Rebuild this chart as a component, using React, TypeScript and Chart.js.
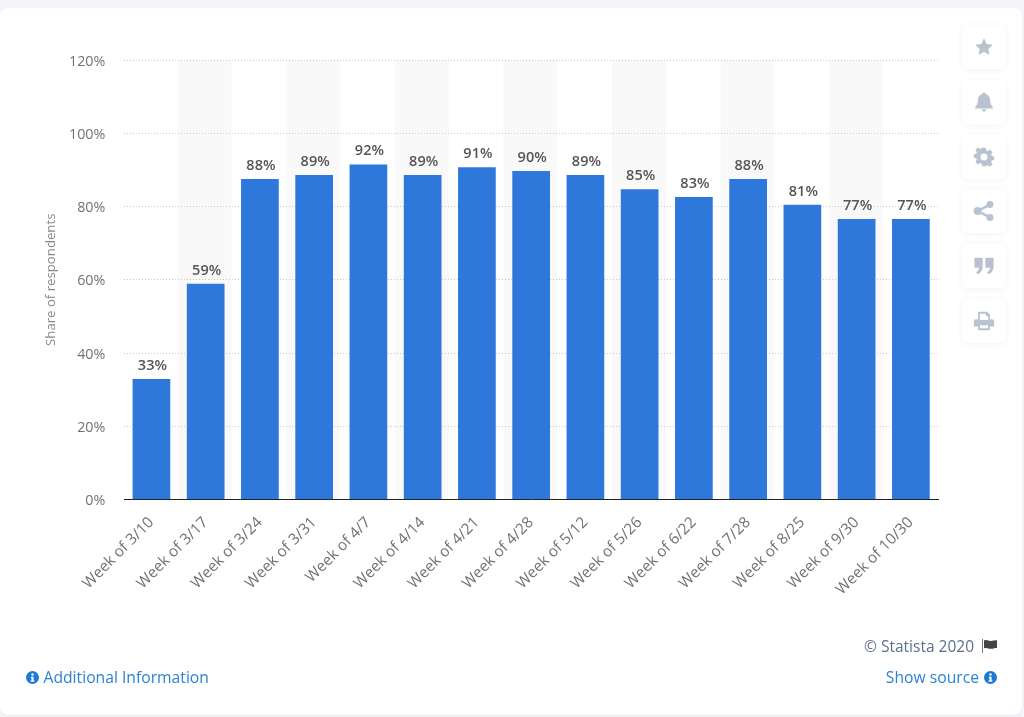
import React, { useEffect, useRef } from "react";
import { Chart, registerables } from "chart.js";

Chart.register(...registerables);

const categories = ["Week of 3/10", "Week of 3/17", "Week of 3/24", "Week of 3/31", "Week of 4/7", "Week of 4/14", "Week of 4/21", "Week of 4/28", "Week of 5/12", "Week of 5/26", "Week of 6/22", "Week of 7/28", "Week of 8/25", "Week of 9/30", "Week of 10/30"];
// Printed labels
const shares = [33, 59, 88, 89, 92, 89, 91, 90, 89, 85, 83, 88, 81, 77, 77];
// Bar heights as read against the gridlines in the picture
const barHeights = [32.9, 58.9, 87.5, 88.6, 91.5, 88.6, 90.7, 89.7, 88.6, 84.7, 82.6, 87.5, 80.5, 76.6, 76.6];
const yAxisTitle = "Share of respondents";
const FONT = '"Open Sans", sans-serif';

const stripes = {
  id: "stripes",
  beforeDraw(chart: any) {
    const { ctx, chartArea, scales } = chart;
    const step = scales.x.getPixelForValue(1) - scales.x.getPixelForValue(0);
    ctx.save();
    ctx.fillStyle = "#f9f9f9";
    categories.forEach((_, i) => {
      if (i % 2 === 1) {
        ctx.fillRect(scales.x.getPixelForValue(i) - step / 2 - 0.5, chartArea.top, step - 0.5, chartArea.height);
      }
    });
    ctx.restore();
  },
};

const valueLabels = {
  id: "valueLabels",
  afterDatasetsDraw(chart: any) {
    const { ctx } = chart;
    const meta = chart.getDatasetMeta(0);
    ctx.save();
    ctx.font = `600 14.5px ${FONT}`;
    ctx.fillStyle = "#555555";
    ctx.textAlign = "center";
    ctx.textBaseline = "alphabetic";
    meta.data.forEach((bar: any, i: number) => {
      ctx.fillText(`${shares[i]}%`, bar.x + 1, bar.y - 9);
    });
    ctx.restore();
  },
};

const iconColor = "#b9c3cf";
const buttonTops = [25, 80, 135, 189, 244, 299];
const icons = [
  <path d="M12 2.5l2.9 6.2 6.8.8-5 4.6 1.3 6.7-6-3.4-6 3.4 1.3-6.7-5-4.6 6.8-.8z" />,
  <path d="M12 1.5a1.7 1.7 0 0 1 1.7 1.8c3.3.7 5 3.4 5 6.6 0 4 1.200 5.800 2.800 7.600v1.500H2.500V17.500C4.100 15.700 5.300 13.900 5.300 9.900c0-3.200 1.700-5.900 5-6.600A1.700 1.700 0 0 1 12 1.500zM9.500 20h5a2.500 2.500 0 0 1-5 0z" />,
  <path fillRule="evenodd" d="M10 2h4l.5 2.800 1.700.7 2.400-1.600 2.800 2.800-1.600 2.400.7 1.700 2.500.5v4l-2.500.5-.7 1.700 1.600 2.400-2.800 2.800-2.400-1.600-1.700.7L14 22h-4l-.5-2.700-1.700-.7-2.400 1.600-2.800-2.800 1.600-2.400-.7-1.700L1 13v-4l2.500-.5.700-1.700-1.600-2.400 2.800-2.800 2.400 1.600 1.700-.7zM12 8.200a3.800 3.800 0 1 0 0 7.600 3.800 3.800 0 0 0 0-7.600z" />,
  <g><circle cx="18.500" cy="5" r="3.800" /><circle cx="18.500" cy="19" r="3.800" /><circle cx="5" cy="12" r="4.300" /><path d="M5 12L18.500 5M5 12l13.500 7" stroke={iconColor} strokeWidth="2.600" /></g>,
  <path d="M1.500 3h9v9.500c0 4-2.200 7.500-6 8.500l-1-2.300c2-.8 3-2.700 3-4.700h-5zM13.500 3h9v9.500c0 4-2.200 7.500-6 8.500l-1-2.300c2-.8 3-2.700 3-4.700h-5z" />,
  <path fillRule="evenodd" d="M5.500 2h10l3 3v5h2.500a2 2 0 0 1 2 2v6h-4.500v4h-13v-4H1v-6a2 2 0 0 1 2-2h2.500zM7.500 4v7h9V6.500h-2.500V4zM7.500 16.500v3.500h9v-3.500z" />,
];

const InfoIcon = ({ x, y }: { x: number; y: number }) => (
  <svg style={{ position: "absolute", left: x, top: y }} width="13" height="13" viewBox="0 0 24 24">
    <path fill="#1a7ad4" fillRule="evenodd" d="M12 0a12 12 0 1 0 0 24 12 12 0 0 0 0-24zM12 4a2.300 2.300 0 1 1 0 4.600A2.300 2.300 0 0 1 12 4zM9 10.500h5v7h1.500V20h-7v-2.500H10v-4.500H9z" />
  </svg>
);

const textStyle: React.CSSProperties = {
  position: "absolute",
  fontFamily: FONT,
  fontSize: 15.7,
  lineHeight: "20px",
  whiteSpace: "nowrap",
};

export default function App() {
  const ref = useRef<HTMLCanvasElement>(null);

  useEffect(() => {
    const chart = new Chart(ref.current as HTMLCanvasElement, {
      type: "bar",
      data: {
        labels: categories,
        datasets: [{
          data: barHeights,
          backgroundColor: "#2e78db",
          categoryPercentage: 0.695,
          barPercentage: 1,
        }],
      },
      plugins: [stripes, valueLabels],
      options: {
        responsive: false,
        animation: false,
        layout: { padding: { left: 43, top: 60, right: 86, bottom: 0 } },
        plugins: { legend: { display: false }, tooltip: { enabled: false } },
        scales: {
          x: {
            afterFit(axis: any) { axis.height = 217.5; },
            grid: { display: false, drawTicks: false },
            border: { display: true, color: "#222222", width: 1 },
            ticks: {
              autoSkip: false,
              minRotation: 45,
              maxRotation: 45,
              padding: 14,
              color: "#727272",
              font: { family: FONT, size: 15.3 },
            },
          },
          y: {
            min: 0,
            max: 120,
            afterFit(axis: any) { axis.width = 81.3; },
            grid: {
              drawTicks: false,
              color: (c: any) => (c.tick.value === 0 ? "rgba(0,0,0,0)" : "#c8c8c8"),
              lineWidth: 1,
            },
            border: { display: false, dash: [1, 2] },
            title: {
              display: true,
              text: yAxisTitle,
              color: "#8a8a8a",
              font: { family: FONT, size: 13.2 },
              padding: { top: 0, bottom: 0 },
            },
            ticks: {
              stepSize: 20,
              padding: 19,
              labelOffset: 1.5,
              color: "#727272",
              font: { family: FONT, size: 14.3 },
              callback: (v: any) => `${v}%`,
            },
          },
        },
      },
    } as any);
    return () => chart.destroy();
  }, []);

  return (
    <div style={{ position: "absolute", left: 0, top: 0, width: 1024, height: 717, overflow: "hidden", background: "#f3f5f8" }}>
      <div style={{ position: "absolute", left: 0, top: 8, width: 1021.5, height: 707, background: "#ffffff", borderRadius: 8, boxShadow: "0 1px 2px rgba(120,130,150,0.10)" }} />
      <canvas ref={ref} width={1024} height={717} style={{ position: "absolute", left: 0, top: 0, width: 1024, height: 717 }} />
      {buttonTops.map((top, i) => (
        <div key={top} style={{ position: "absolute", left: 962, top, width: 44, height: 44, borderRadius: 6, background: "#ffffff", boxShadow: "0 1px 6px rgba(110,125,150,0.09)" }}>
          <svg style={{ position: "absolute", left: 11, top: 11 }} width="22" height="22" viewBox="0 0 24 24" fill={iconColor}>{icons[i]}</svg>
        </div>
      ))}
      <InfoIcon x={26} y={670.5} />
      <div style={{ ...textStyle, left: 43.500, top: 666.5, color: "#2a83d6" }}>Additional Information</div>
      <div style={{ ...textStyle, right: 50, top: 635.5, fontSize: 15.5, color: "#5b7089" }}>© Statista 2020</div>
      <svg style={{ position: "absolute", left: 981, top: 639 }} width="17" height="14" viewBox="0 0 17 14">
        <path d="M1 0h1v14H1z" fill="#777" />
        <path d="M3 1.500c3-1.200 4.500.8 7 .5 2-.2 4-1 6-.8v7.800c-2-.2-4 .7-6 .8-2.500.2-4-1.500-7-.5z" fill="#444" />
      </svg>
      <div style={{ ...textStyle, right: 45, top: 666.5, color: "#2a83d6" }}>Show source</div>
      <InfoIcon x={984} y={670.5} />
    </div>
  );
}
